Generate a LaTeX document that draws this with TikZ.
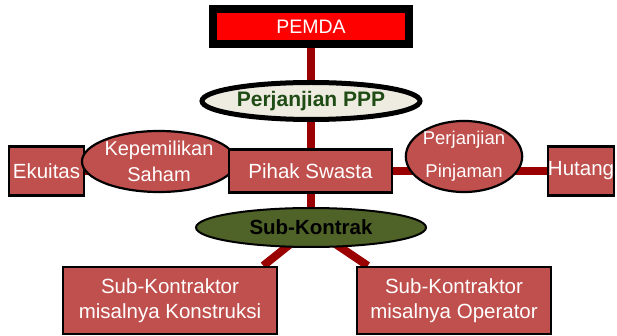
\documentclass[tikz,border=0pt]{standalone}
\usepackage{fontspec}
\setmainfont{Liberation Sans}
\usetikzlibrary{shapes.geometric,backgrounds,calc}
\definecolor{boxred}{HTML}{C0504D}
\definecolor{linered}{HTML}{9A0000}
\definecolor{beige}{HTML}{EEECE1}
\definecolor{olive}{HTML}{4F6228}
\definecolor{dgreen}{HTML}{1F4B14}
\begin{document}
\begin{tikzpicture}[x=1pt,y=-1pt,
  rbox/.style={draw=black, line width=2.5pt, fill=boxred, text=white, inner sep=0pt, align=center,
    font=\fontsize{20.5}{24.5}\selectfont},
  rell/.style={ellipse, draw=black, line width=2.2pt, fill=boxred, text=white, inner sep=0pt, align=center},
  conn/.style={draw=linered, line width=8pt}]
\useasboundingbox (0,0) rectangle (617,336);
% top
\node[draw=black, line width=8pt, fill=red, text=white, inner sep=0pt,
  minimum width=196pt, minimum height=35pt, font=\fontsize{19.5}{22}\selectfont]
  (pemda) at (311,26.5) {PEMDA};
\node[ellipse, draw=black, line width=5pt, fill=beige, text=dgreen, inner sep=0pt,
  minimum width=218pt, minimum height=37pt, font=\fontsize{21}{24}\selectfont\bfseries]
  (ppp) at (311,101) {Perjanjian PPP};
% middle row
\node[rbox, minimum width=75pt, minimum height=49pt] (eq) at (46.5,171) {Ekuitas};
\node[rell, minimum width=106pt, minimum height=61pt, font=\fontsize{20}{26}\selectfont]
  (kep) at (159,161.5) {Kepemilikan\\Saham};
\node[rbox, minimum width=163pt, minimum height=43pt] (ps) at (310.5,171) {Pihak Swasta};
\node[rell, minimum width=114pt, minimum height=61pt, font=\fontsize{18.5}{33}\selectfont]
  (pin) at (464,156.5) {Perjanjian\\Pinjaman};
\node[rbox, minimum width=66pt, minimum height=49pt] (hut) at (581,171) {Hutang};
% sub-kontrak
\node[ellipse, draw=black, line width=2pt, fill=olive, text=black, inner sep=0pt,
  minimum width=230pt, minimum height=39pt, font=\fontsize{20.5}{24}\selectfont\bfseries]
  (sk) at (311,227.5) {Sub-Kontrak};
% bottom
\node[rbox, minimum width=214pt, minimum height=67pt] (lb) at (170,300.5)
  {Sub-Kontraktor\\misalnya Konstruksi};
\node[rbox, minimum width=194pt, minimum height=67pt] (rb) at (454,300.5)
  {Sub-Kontraktor\\misalnya Operator};
% connectors
\begin{scope}[on background layer]
  \draw[conn] (pemda.center) -- (sk.center);
  \draw[conn] (eq.center) -- (hut.center);
  \draw[conn] (sk.center) -- ($(lb.north east)+(-15,0)$);
  \draw[conn] (sk.center) -- ($(rb.north west)+(12,0)$);
\end{scope}
\end{tikzpicture}
\end{document}
